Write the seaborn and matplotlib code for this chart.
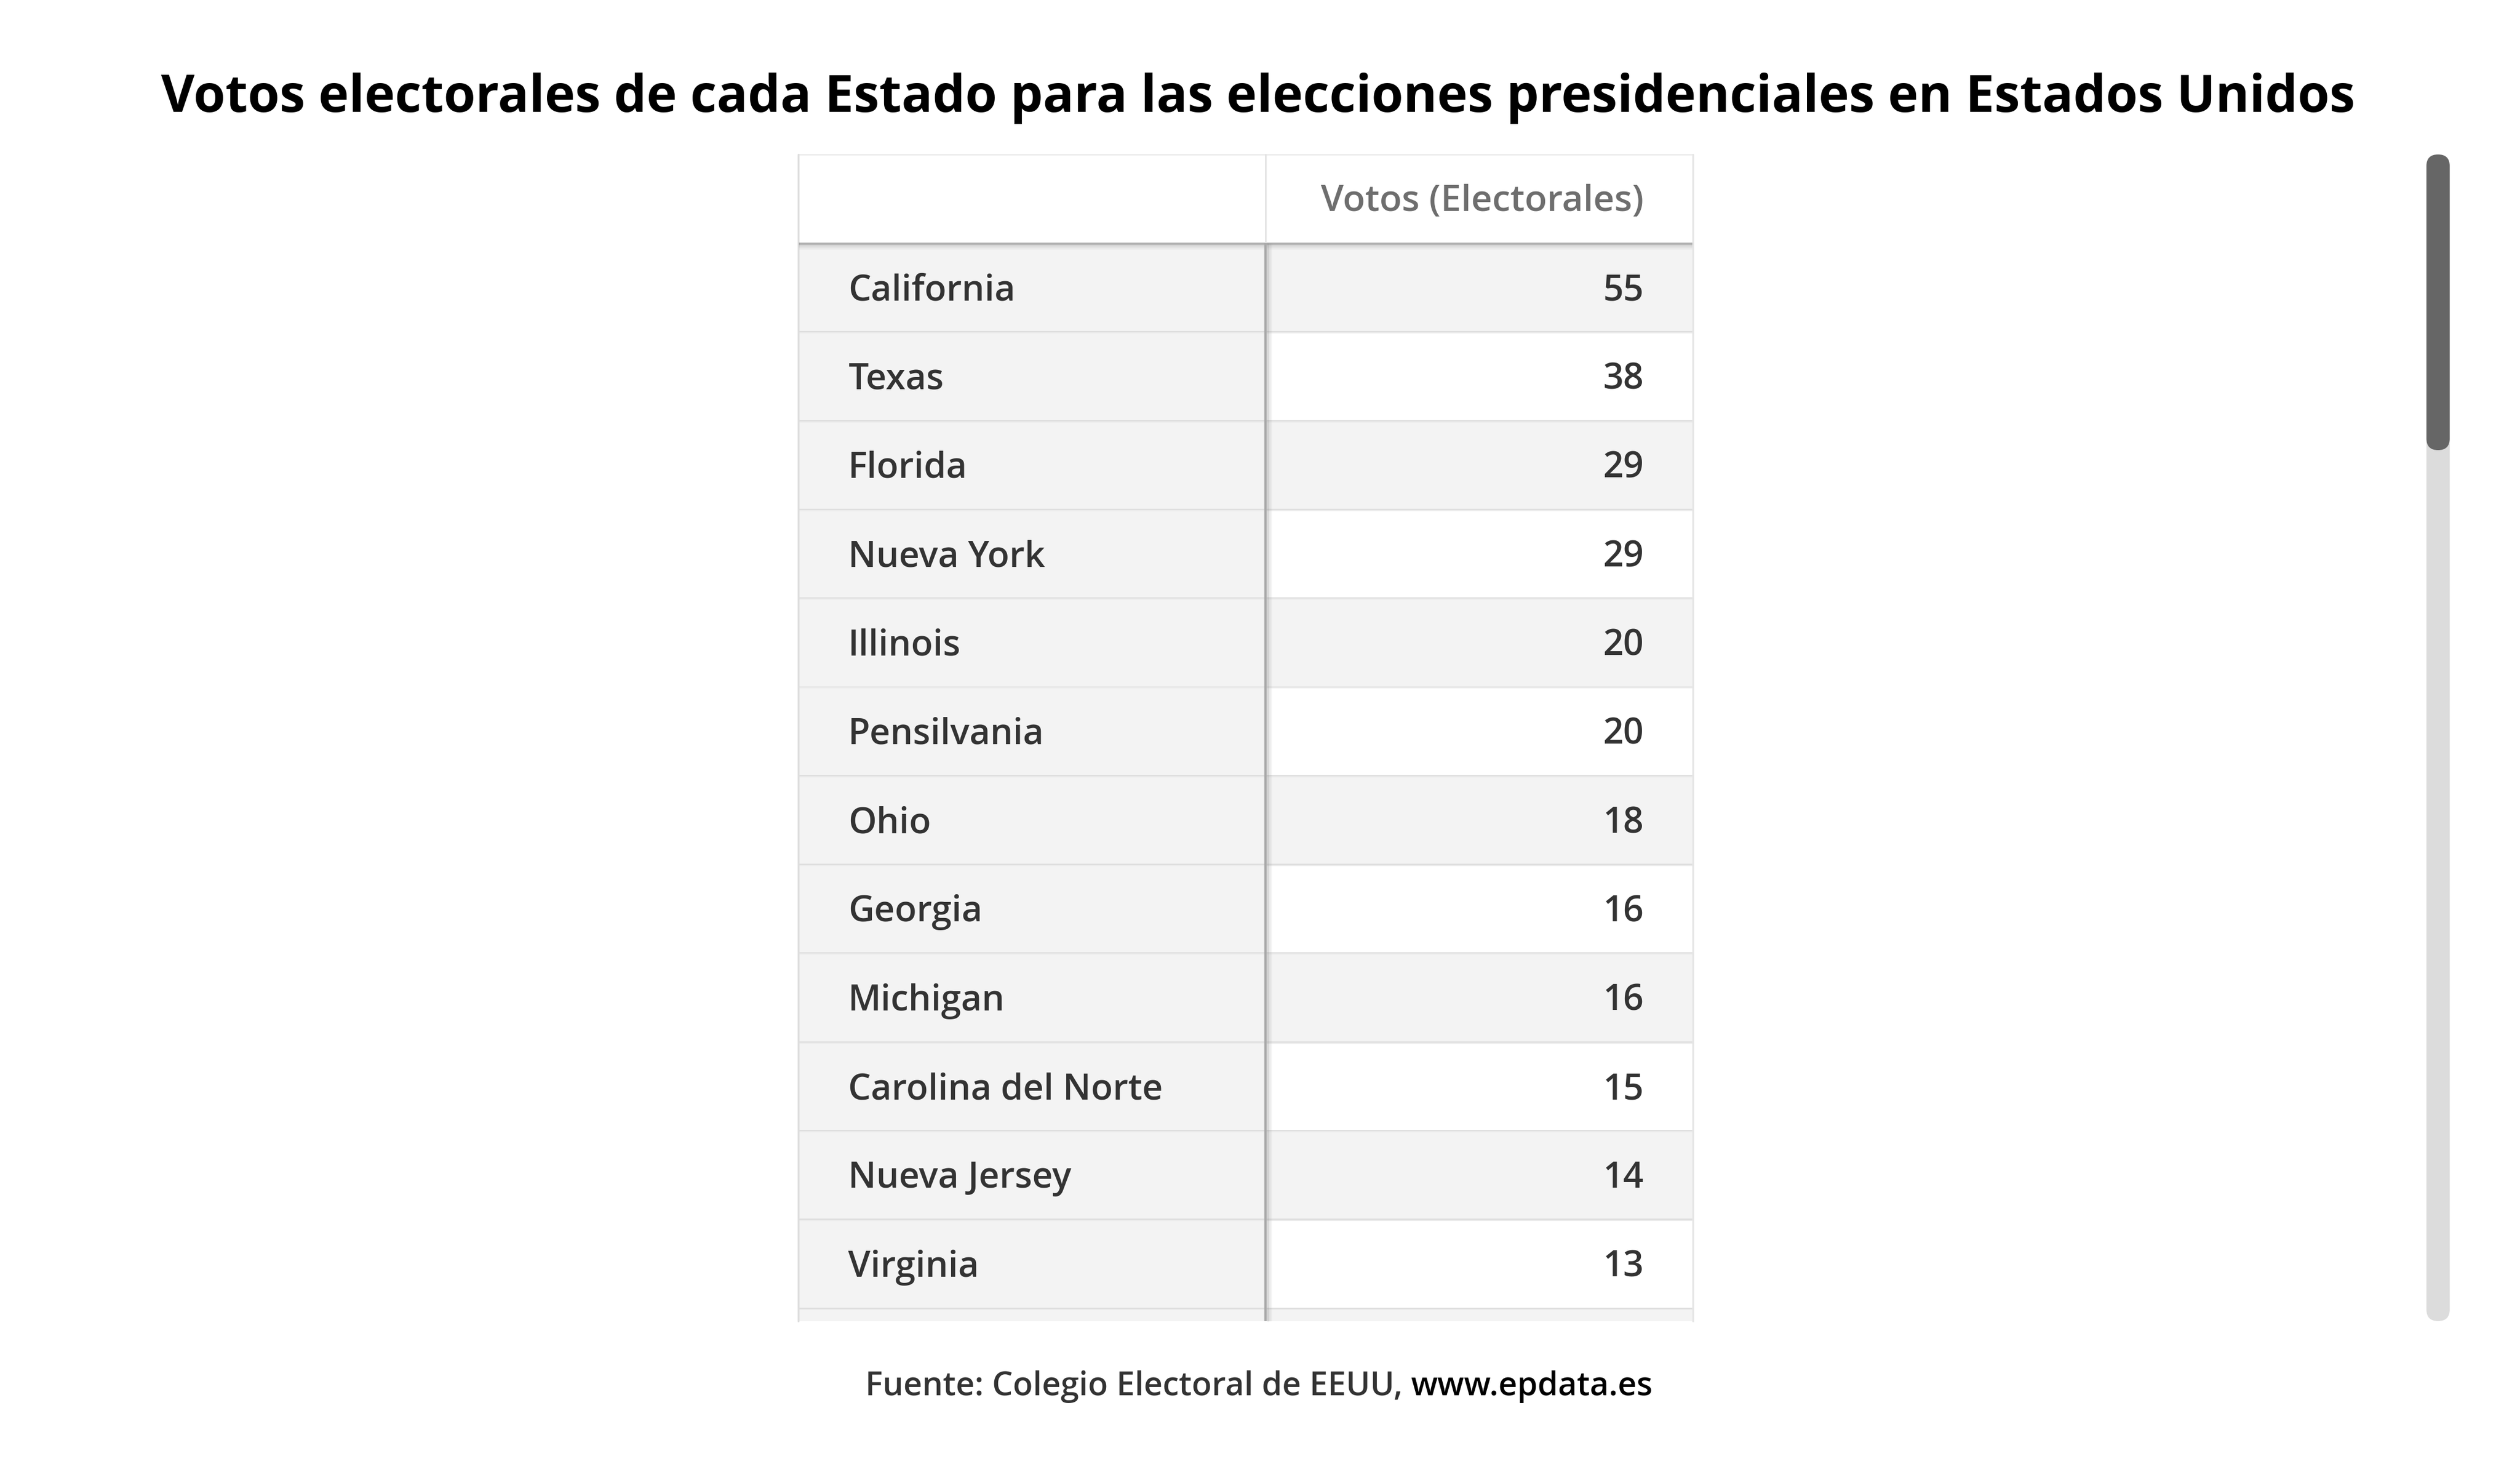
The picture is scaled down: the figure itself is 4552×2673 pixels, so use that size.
import numpy as np
import pandas as pd
import matplotlib.pyplot as plt
import seaborn as sns
from matplotlib.colors import ListedColormap
from matplotlib.patches import FancyBboxPatch

# Datos ---------------------------------------------------------------
estados = ['California', 'Texas', 'Florida', 'Nueva York', 'Illinois',
           'Pensilvania', 'Ohio', 'Georgia', 'Michigan', 'Carolina del Norte',
           'Nueva Jersey', 'Virginia', 'Washington']
votos = [55, 38, 29, 29, 20, 20, 18, 16, 16, 15, 14, 13, 12]

titulo = 'Votos electorales de cada Estado para las elecciones presidenciales en Estados Unidos'
cabecera = 'Votos (Electorales)'
fuente_1 = 'Fuente: Colegio Electoral de EEUU, '
fuente_2 = 'www.epdata.es'

df = pd.DataFrame({'Estado': estados, 'Votos': votos})
n = len(df)

# Estilo ---------------------------------------------------------------
sns.set_style('white')
plt.rcParams['font.family'] = ['Open Sans', 'DejaVu Sans']

W, H = 4552, 2673
fig = plt.figure(figsize=(W / 100, H / 100), dpi=100)
fig.patch.set_facecolor('white')


def caja(x0, x1, y0, y1):
    # pixeles (origen arriba-izquierda) -> fraccion de figura
    return [x0 / W, 1 - y1 / H, (x1 - x0) / W, (y1 - y0) / H]


tab_x0, tab_xm, tab_x1 = 1443, 2286, 3057
head_y0, head_y1, tab_y1 = 279, 439, 2386
alto_fila = 160.3
filas_visibles = (tab_y1 - head_y1) / alto_fila

# Columnas de la tabla (heatmaps de una columna)
ax_izq = fig.add_axes(caja(tab_x0, tab_xm, head_y1, tab_y1))
ax_der = fig.add_axes(caja(tab_xm, tab_x1, head_y1, tab_y1))

cebra = np.array([[1 if i % 2 == 0 else 0] for i in range(n)])
gris = ListedColormap(['#ffffff', '#f3f3f3'])

sns.heatmap(np.ones((n, 1)), cmap=gris, vmin=0, vmax=1, cbar=False,
            xticklabels=False, yticklabels=False, ax=ax_izq)
sns.heatmap(cebra, cmap=gris, vmin=0, vmax=1, cbar=False,
            xticklabels=False, yticklabels=False, ax=ax_der)

for ax in (ax_izq, ax_der):
    ax.set_ylim(filas_visibles, 0)
    ax.set_xlim(0, 1)
    ax.axis('off')
    # separadores de filas
    ax.hlines(np.arange(1, n), 0, 1, color='#dcdcdc', lw=1.6, zorder=3)
    ax.hlines(np.arange(1, n) + 0.012, 0, 1, color='#ebebeb', lw=1.6, zorder=3)

for i, row in df.iterrows():
    ax_izq.text(0.1056, i + 0.645, row['Estado'], ha='left', va='baseline',
                fontsize=46.5, fontweight='semibold', color='#333333', clip_on=True)
    ax_der.text(0.886, i + 0.645, f"{row['Votos']}", ha='right', va='baseline',
                fontsize=46.5, fontweight='semibold', color='#333333', clip_on=True)

# Cabecera
ax_cab = fig.add_axes(caja(tab_x0, tab_x1, head_y0, head_y1))
ax_cab.set_facecolor('white')
ax_cab.set_xticks([])
ax_cab.set_yticks([])
for s in ax_cab.spines.values():
    s.set_visible(False)
ax_cab.text((2969 - tab_x0) / (tab_x1 - tab_x0), 0.36, cabecera,
            transform=ax_cab.transAxes, ha='right', va='baseline',
            fontsize=47.5, fontweight='semibold', color='#6e6e6e')

# Capa de adornos en pixeles
ov = fig.add_axes([0, 0, 1, 1], zorder=10)
ov.set_xlim(0, W)
ov.set_ylim(H, 0)
ov.axis('off')
ov.patch.set_alpha(0)

# sombra del borde de la tabla
ov.plot([tab_x0, tab_x1], [head_y0, head_y0], color='#ececec', lw=2)
ov.plot([tab_x0 - 1, tab_x0 - 1], [head_y0, tab_y1], color='#dedede', lw=2.5)
ov.plot([tab_x1 + 1, tab_x1 + 1], [head_y0, tab_y1], color='#e6e6e6', lw=2.5)

# linea inferior de la cabecera con sombra
for k, a in enumerate([0.55, 0.25, 0.12, 0.06]):
    ov.plot([tab_x0, tab_x1], [head_y1 + 1 + k * 3, head_y1 + 1 + k * 3],
            color='#7a7a7a', alpha=a, lw=2.6, solid_capstyle='butt')

# divisor de columnas
ov.plot([tab_xm, tab_xm], [head_y0, head_y1], color='#e2e2e2', lw=2)
ov.plot([tab_xm, tab_xm], [head_y1, tab_y1], color='#a9a9a9', lw=3.2,
        solid_capstyle='butt')
for k, a in enumerate([0.35, 0.18, 0.08]):
    ov.plot([tab_xm + 4 + k * 3, tab_xm + 4 + k * 3], [head_y1, tab_y1],
            color='#8a8a8a', alpha=a, lw=2.2, solid_capstyle='butt')

# barra de desplazamiento
ov.add_patch(FancyBboxPatch((4383 + 21, head_y0 + 21), 0, (tab_y1 - head_y0) - 42,
                            boxstyle='round,pad=21', fc='#dcdcdc', ec='none'))
ov.add_patch(FancyBboxPatch((4383 + 21, head_y0 + 21), 0, (813 - head_y0) - 42,
                            boxstyle='round,pad=21', fc='#666666', ec='none'))

# Titulo y fuente
ov.text(2273, 202, titulo, ha='center', va='baseline', fontsize=67,
        fontweight='bold', color='black')
t1 = ov.text(1563, 2520, fuente_1, ha='left', va='baseline', fontsize=42.5,
             fontweight='semibold', color='#333333')
ov.annotate(fuente_2, xy=(1, 0), xycoords=t1, ha='left', va='bottom',
            fontsize=42.5, fontweight='semibold', color='black')

fig.savefig('out.png', dpi=100, facecolor='white')
